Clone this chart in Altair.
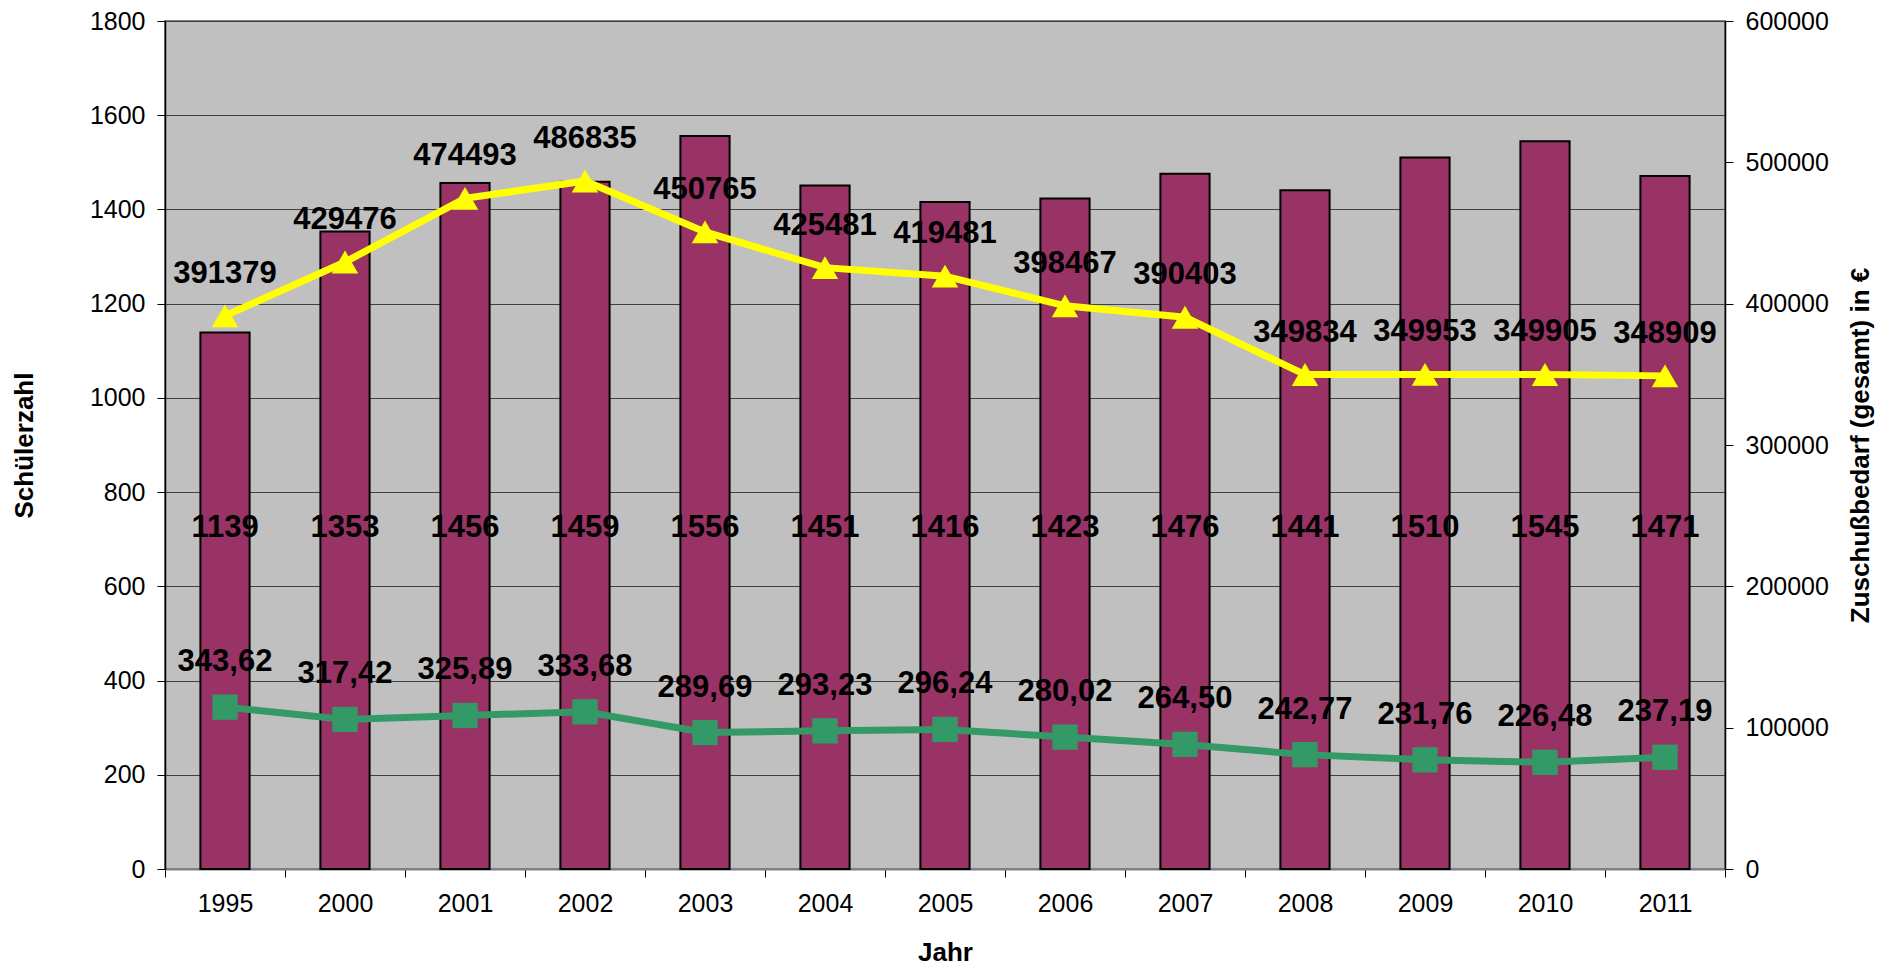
import altair as alt
import pandas as pd

years = ["1995", "2000", "2001", "2002", "2003", "2004", "2005",
         "2006", "2007", "2008", "2009", "2010", "2011"]
schueler = [1139, 1353, 1456, 1459, 1556, 1451, 1416, 1423, 1476, 1441, 1510, 1545, 1471]
zuschuss = [391379, 429476, 474493, 486835, 450765, 425481, 419481,
            398467, 390403, 349834, 349953, 349905, 348909]
pro_schueler = [343.62, 317.42, 325.89, 333.68, 289.69, 293.23, 296.24,
                280.02, 264.50, 242.77, 231.76, 226.48, 237.19]

df = pd.DataFrame({
    "Jahr": years,
    "Schueler": schueler,
    "Zuschuss": zuschuss,
    "ProSchueler": pro_schueler,
})
df["ProLabel"] = [f"{v:.2f}".replace(".", ",") for v in pro_schueler]
df["ZuLabel"] = [str(v) for v in zuschuss]
df["SchLabel"] = [str(v) for v in schueler]

FONT = "Liberation Sans"
W, H = 1560, 848

x_enc = alt.X("Jahr:N", sort=years,
              scale=alt.Scale(paddingInner=0, paddingOuter=0),
              axis=alt.Axis(title="Jahr", labelAngle=0, tickBand="extent",
                            domainColor="#808080", domainWidth=2,
                            tickColor="black", tickSize=8, labelPadding=14,
                            labelFontSize=25, labelFont=FONT, labelColor="black",
                            titleFont=FONT, titleFontSize=26, titleFontWeight="bold",
                            titleColor="black", titleY=83, titleBaseline="middle"))

y_left_scale = alt.Scale(domain=[0, 1800], nice=False, zero=True)
y_left_axis = alt.Axis(title="Schülerzahl", orient="left", values=list(range(0, 1801, 200)),
                       format="d",
                       grid=True, gridColor="#404040", gridWidth=1,
                       domainColor="black", domainWidth=1.5,
                       tickColor="black", tickSize=8, labelPadding=12,
                       labelFontSize=25, labelFont=FONT, labelColor="black",
                       titleFont=FONT, titleFontSize=26, titleFontWeight="bold",
                       titleColor="black", titleAngle=270, titleX=-141, titleY=424,
                       titleBaseline="middle", titleAlign="center")
y_left = alt.Y("Schueler:Q", scale=y_left_scale, axis=y_left_axis)

base = alt.Chart(df)

bars = base.mark_bar(color="#993366", stroke="black", strokeWidth=2,
                     width=alt.RelativeBandSize(0.41)).encode(x=x_enc, y=y_left)

green_line = base.mark_line(color="#339966", strokeWidth=7).encode(
    x=x_enc, y=alt.Y("ProSchueler:Q", scale=y_left_scale, axis=y_left_axis))
green_pts = base.mark_point(shape="square", filled=True, color="#339966",
                            size=640, opacity=1).encode(
    x=x_enc, y=alt.Y("ProSchueler:Q", scale=y_left_scale, axis=y_left_axis))
green_lbl = base.mark_text(font=FONT, fontSize=31, fontWeight="bold", color="black",
                           baseline="middle", dy=-45).encode(
    x=x_enc, y=alt.Y("ProSchueler:Q", scale=y_left_scale, axis=y_left_axis),
    text="ProLabel:N")
bar_lbl = base.mark_text(font=FONT, fontSize=31, fontWeight="bold", color="black",
                         baseline="middle").encode(
    x=x_enc, y=alt.datum(723, scale=y_left_scale), text="SchLabel:N")

left = alt.layer(bars, green_line, green_pts, bar_lbl, green_lbl)

y_right_scale = alt.Scale(domain=[0, 600000], nice=False, zero=True)
y_right_axis = alt.Axis(title="Zuschußbedarf (gesamt) in €", orient="right",
                        values=list(range(0, 600001, 100000)), grid=False,
                        format="d",
                        domainColor="black", domainWidth=1.5,
                        tickColor="black", tickSize=8, labelPadding=12,
                        labelFontSize=25, labelFont=FONT, labelColor="black",
                        titleFont=FONT, titleFontSize=26, titleFontWeight="bold",
                        titleColor="black", titleAngle=270, titleX=135, titleY=424,
                        titleBaseline="middle", titleAlign="center")
y_right = alt.Y("Zuschuss:Q", scale=y_right_scale, axis=y_right_axis)

yellow_line = base.mark_line(color="#FFFF00", strokeWidth=7).encode(x=x_enc, y=y_right)
yellow_pts = base.mark_point(shape="triangle-up", filled=True, color="#FFFF00",
                             size=700, opacity=1).encode(x=x_enc, y=y_right)
yellow_lbl = base.mark_text(font=FONT, fontSize=31, fontWeight="bold", color="black",
                            baseline="middle", dy=-42).encode(
    x=x_enc, y=y_right, text="ZuLabel:N")

right = alt.layer(yellow_line, yellow_pts, yellow_lbl)

chart = alt.layer(left, right).resolve_scale(y="independent").properties(
    width=W, height=H,
    autosize=alt.AutoSizeParams(type="none"),
    padding={"left": 157, "top": 13, "right": 152, "bottom": 98},
    background="white",
).configure_view(fill="#C0C0C0", stroke="#808080", strokeWidth=2)

chart.save("out.html", embed_options={"renderer": "svg", "actions": False})
